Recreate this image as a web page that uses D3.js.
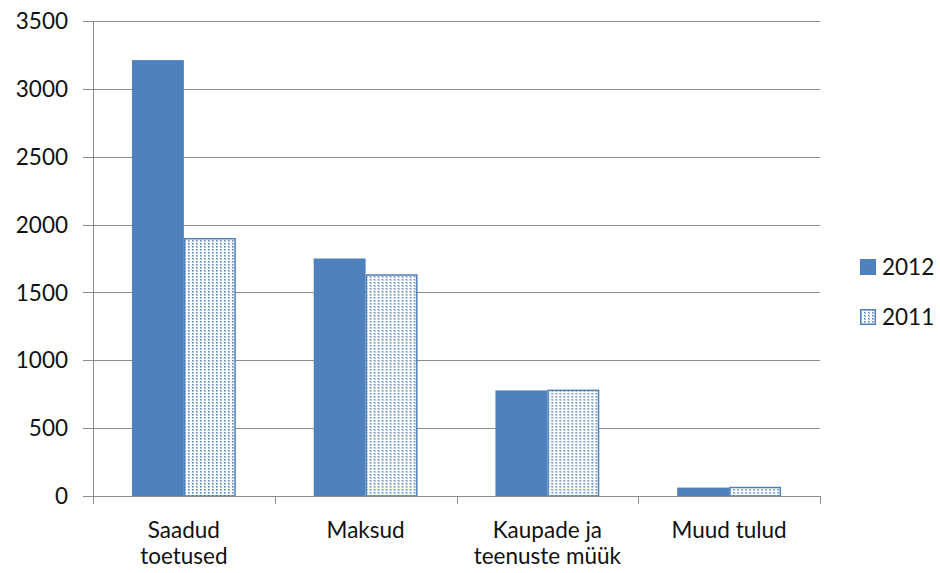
<!DOCTYPE html>
<html>
<head>
<meta charset="utf-8">
<script src="https://cdn.jsdelivr.net/npm/d3@7"></script>
<style>
  body { margin: 0; background: #fff; }
  svg text { font-family: Lato, "Open Sans", sans-serif; fill: #111; }
</style>
</head>
<body>
<div id="chart"></div>
<script>
const categories = [["Saadud", "toetused"], ["Maksud"], ["Kaupade ja", "teenuste müük"], ["Muud tulud"]];
const seriesNames = ["2012", "2011"];
const values2012 = [3212, 1750, 778, 62];
const values2011 = [1901, 1634, 784, 68];
const yTicks = [0, 500, 1000, 1500, 2000, 2500, 3000, 3500];

const width = 940, height = 573;
const margin = {top: 21, right: 120, bottom: 77, left: 93};
const blue = "#4F81BD";
const fontSize = 22.5;

const svg = d3.select("#chart").append("svg")
  .attr("width", width).attr("height", height);

// dotted fill for 2011, like the Excel pattern
const defs = svg.append("defs");
const pat = defs.append("pattern")
  .attr("id", "dots")
  .attr("patternUnits", "userSpaceOnUse")
  .attr("width", 4).attr("height", 3);
pat.append("rect").attr("width", 4).attr("height", 3).attr("fill", "#fff");
pat.append("rect").attr("x", 0).attr("y", 0).attr("width", 2).attr("height", 2).attr("fill", "#a9c0e0");
pat.append("rect").attr("x", 0).attr("y", 0).attr("width", 1).attr("height", 1).attr("fill", blue);

const x = d3.scaleBand()
  .domain(d3.range(categories.length))
  .range([margin.left, width - margin.right])
  .paddingInner(0).paddingOuter(0);

const y = d3.scaleLinear()
  .domain([0, 3500])
  .range([height - margin.bottom, margin.top]);

// gridlines
svg.append("g")
  .selectAll("line")
  .data(yTicks)
  .join("line")
    .attr("x1", margin.left - 10).attr("x2", width - margin.right)
    .attr("y1", d => Math.round(y(d)) + 0.5).attr("y2", d => Math.round(y(d)) + 0.5)
    .attr("stroke", "#8c8c8c").attr("stroke-width", 1);

// y tick labels
svg.append("g")
  .selectAll("text")
  .data(yTicks)
  .join("text")
    .attr("x", 68)
    .attr("y", d => y(d))
    .attr("dy", "0.36em")
    .attr("text-anchor", "end")
    .attr("font-size", fontSize)
    .text(d => d);

// y axis line
svg.append("line")
  .attr("x1", margin.left + 0.5).attr("x2", margin.left + 0.5)
  .attr("y1", y(3500)).attr("y2", y(0) + 8)
  .attr("stroke", "#8c8c8c");

// bars
const bw = x.bandwidth() * 2 / 7;
const gap = (x.bandwidth() - 2 * bw) / 2;
const data = categories.map((c, i) => ({i, v: [values2012[i], values2011[i]]}));

const groups = svg.append("g").selectAll("g")
  .data(data)
  .join("g")
    .attr("transform", d => `translate(${x(d.i) + gap},0)`);

groups.append("rect")
  .attr("x", 0)
  .attr("y", d => y(d.v[0]))
  .attr("width", bw)
  .attr("height", d => y(0) - y(d.v[0]))
  .attr("fill", blue);

groups.append("rect")
  .attr("x", bw + 0.75)
  .attr("y", d => y(d.v[1]) + 0.75)
  .attr("width", bw - 1.5)
  .attr("height", d => y(0) - y(d.v[1]) - 0.75)
  .attr("fill", "url(#dots)")
  .attr("stroke", blue)
  .attr("stroke-width", 1.5);

// x axis
svg.append("line")
  .attr("x1", margin.left).attr("x2", width - margin.right)
  .attr("y1", Math.round(y(0)) + 0.5).attr("y2", Math.round(y(0)) + 0.5)
  .attr("stroke", "#8c8c8c");

const xTickPos = d3.range(categories.length + 1).map(i => margin.left + i * x.step());
svg.append("g")
  .selectAll("line")
  .data(xTickPos)
  .join("line")
    .attr("x1", d => Math.round(d) + 0.5).attr("x2", d => Math.round(d) + 0.5)
    .attr("y1", y(0)).attr("y2", y(0) + 8)
    .attr("stroke", "#8c8c8c");

svg.append("g")
  .selectAll("text")
  .data(categories)
  .join("text")
    .attr("x", (d, i) => x(i) + x.bandwidth() / 2)
    .attr("y", 538)
    .attr("text-anchor", "middle")
    .attr("font-size", fontSize)
    .selectAll("tspan")
    .data(d => d)
    .join("tspan")
      .attr("x", function() { return d3.select(this.parentNode).attr("x"); })
      .attr("dy", (d, i) => i === 0 ? 0 : 26)
      .text(d => d);

// legend
const legend = svg.append("g").selectAll("g")
  .data(seriesNames)
  .join("g")
    .attr("transform", (d, i) => `translate(860,${259 + i * 50})`);

legend.append("rect")
  .attr("x", (d, i) => i ? 0.75 : 0)
  .attr("y", (d, i) => i ? 0.75 : 0)
  .attr("width", (d, i) => i ? 14.5 : 16)
  .attr("height", (d, i) => i ? 14.5 : 16)
  .attr("fill", (d, i) => i ? "url(#dots)" : blue)
  .attr("stroke", (d, i) => i ? blue : "none")
  .attr("stroke-width", 1.5);

legend.append("text")
  .attr("x", 22)
  .attr("y", 8)
  .attr("dy", "0.36em")
  .attr("font-size", fontSize)
  .text(d => d);
</script>
</body>
</html>
